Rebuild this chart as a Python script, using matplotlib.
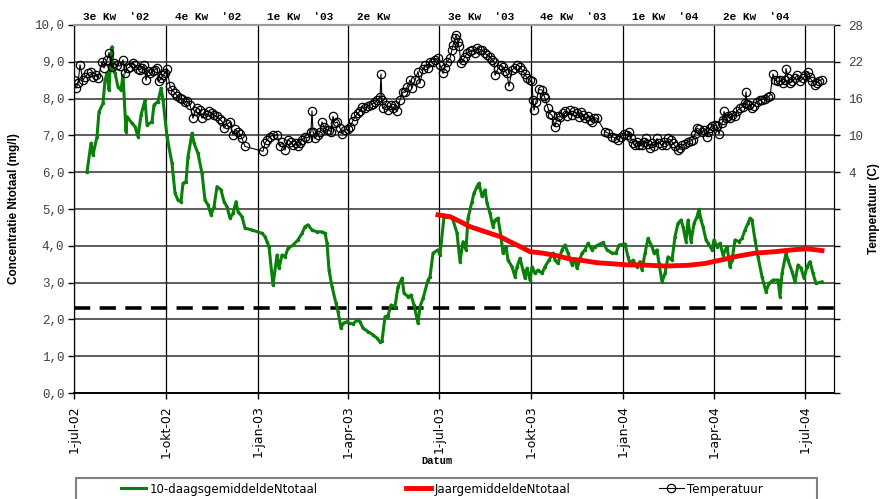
import pandas as pd
import matplotlib.pyplot as plt
from matplotlib.patches import Rectangle
from matplotlib import transforms

# Startdatum, alle dagen zijn geteld vanaf 1-jul-02
start = pd.Timestamp('2002-07-01')

# 10-daags gemiddelde Ntotaal (mg/l)
n10_dagen = [13, 17, 19, 23, 25, 29, 31, 33, 35, 36, 38, 39, 41, 44, 47, 49, 52, 53, 58, 61,
             64, 67, 71, 73, 78, 80, 84, 87, 89, 93, 98, 101, 104, 107, 109, 112, 114, 118, 120, 124,
             128, 131, 134, 137, 140, 143, 147, 150, 153, 156, 159, 162, 164, 168, 171, 178, 188, 191, 193, 195,
             199, 203, 205, 208, 211, 214, 219, 224, 228, 231, 234, 238, 243, 248, 251, 253, 255, 258, 262, 264,
             267, 269, 273, 276, 279, 283, 286, 289, 294, 299, 303, 306, 308, 311, 314, 317, 321, 324, 328, 330,
             334, 337, 340, 344, 346, 349, 354, 356, 359, 364, 366, 370, 373, 376, 379, 383, 386, 389, 392, 394,
             398, 400, 403, 405, 408, 411, 413, 416, 419, 421, 424, 427, 429, 432, 434, 438, 441, 443, 446, 449,
             451, 453, 456, 458, 461, 464, 468, 471, 475, 479, 481, 484, 488, 491, 494, 498, 501, 503, 508, 511,
             514, 518, 521, 524, 529, 533, 538, 542, 545, 551, 554, 556, 559, 563, 566, 568, 571, 574, 578, 580,
             583, 585, 588, 591, 594, 598, 601, 604, 607, 609, 612, 614, 617, 620, 623, 625, 627, 629, 632, 634,
             638, 640, 643, 646, 649, 653, 656, 658, 661, 665, 668, 671, 674, 676, 678, 681, 684, 688, 692, 695,
             699, 704, 706, 708, 712, 714, 718, 721, 724, 727, 730, 733, 736, 739, 742, 748]
n10_waarde = [6.00, 6.79, 6.47, 6.97, 7.64, 7.87, 8.50, 8.69, 8.23, 8.78, 9.41, 8.78, 8.69, 8.32, 8.23, 8.64, 7.10, 7.51, 7.33, 7.24,
              6.97, 7.55, 7.96, 7.28, 7.37, 7.83, 7.92, 8.28, 7.96, 6.97, 6.24, 5.43, 5.24, 5.20, 5.70, 5.74, 6.42, 7.06, 6.79, 6.51,
              5.97, 5.24, 5.11, 4.84, 5.06, 5.61, 5.52, 5.20, 5.06, 4.75, 4.88, 5.20, 4.93, 4.79, 4.48, 4.43, 4.34, 4.25, 4.11, 3.98,
              2.93, 3.75, 3.39, 3.75, 3.70, 3.93, 4.02, 4.16, 4.34, 4.52, 4.57, 4.43, 4.38, 4.38, 4.34, 4.07, 3.34, 2.89, 2.44, 2.21,
              1.76, 1.89, 1.94, 1.89, 1.88, 1.98, 1.94, 1.76, 1.67, 1.58, 1.49, 1.39, 1.42, 2.07, 2.10, 2.39, 2.35, 2.89, 3.12, 2.71,
              2.62, 2.66, 2.39, 1.89, 2.35, 2.57, 3.07, 3.16, 3.80, 3.89, 3.75, 4.79, 4.79, 4.81, 4.70, 4.34, 3.57, 4.11, 3.89, 4.75,
              5.20, 5.43, 5.61, 5.70, 5.34, 5.52, 5.16, 4.88, 4.52, 4.70, 4.75, 4.25, 3.80, 3.98, 3.61, 3.43, 3.16, 3.43, 3.66, 3.34,
              3.12, 3.39, 3.07, 3.43, 3.25, 3.34, 3.25, 3.43, 3.61, 3.80, 3.61, 3.52, 3.89, 4.02, 3.80, 3.48, 3.61, 3.39, 3.80, 3.89,
              4.07, 3.89, 3.98, 4.02, 4.09, 3.89, 3.80, 3.80, 4.02, 4.05, 3.70, 3.52, 3.61, 3.43, 3.57, 3.34, 3.80, 4.20, 3.98, 3.80,
              3.89, 3.52, 3.02, 3.25, 3.70, 3.61, 4.25, 4.61, 4.70, 4.52, 4.11, 4.70, 4.11, 4.61, 4.79, 4.99, 4.70, 4.52, 4.16, 4.07,
              3.89, 4.16, 3.98, 4.07, 3.75, 3.98, 3.43, 3.61, 4.16, 4.11, 4.20, 4.43, 4.61, 4.75, 4.70, 4.16, 3.70, 3.16, 2.75, 2.98,
              3.07, 3.07, 2.62, 3.25, 3.80, 3.61, 3.30, 3.02, 3.48, 3.39, 3.12, 3.43, 3.57, 3.25, 2.98, 3.02]

# Jaargemiddelde Ntotaal (mg/l)
jaar_dagen = [364, 376, 386, 396, 406, 416, 426, 436, 446, 456, 469, 483, 496, 509, 523, 539, 554, 568, 591, 614,
              631, 648, 664, 681, 701, 718, 733, 748]
jaar_waarde = [4.84, 4.79, 4.66, 4.52, 4.43, 4.34, 4.25, 4.11, 3.98, 3.84, 3.80, 3.73, 3.64, 3.60, 3.54, 3.51, 3.48, 3.48, 3.45, 3.47,
               3.52, 3.62, 3.72, 3.80, 3.84, 3.89, 3.92, 3.87]

# Temperatuur (C)
temp_dagen = [0, 2, 4, 6, 9, 11, 14, 17, 19, 22, 24, 28, 30, 33, 35, 38, 40, 43, 46, 49,
              51, 54, 56, 59, 61, 64, 66, 68, 70, 72, 74, 76, 79, 81, 83, 85, 87, 89, 91, 93,
              96, 98, 101, 103, 106, 108, 111, 113, 116, 119, 121, 123, 126, 128, 130, 133, 135, 138, 140, 143,
              146, 148, 150, 153, 156, 159, 161, 164, 166, 168, 171, 189, 191, 193, 196, 199, 203, 206, 208, 211,
              214, 217, 219, 222, 224, 226, 228, 231, 234, 237, 238, 239, 241, 244, 246, 248, 250, 253, 255, 257,
              259, 261, 263, 266, 268, 271, 274, 276, 279, 281, 284, 286, 288, 291, 294, 297, 299, 301, 303, 306,
              307, 308, 309, 312, 314, 317, 319, 321, 323, 326, 329, 331, 333, 336, 338, 341, 344, 346, 349, 351,
              354, 356, 359, 361, 364, 366, 369, 371, 373, 376, 378, 379, 381, 382, 384, 385, 387, 389, 391, 393,
              396, 398, 401, 403, 406, 408, 411, 413, 416, 418, 420, 421, 424, 427, 429, 431, 433, 435, 438, 441,
              443, 446, 448, 451, 453, 456, 458, 459, 460, 462, 465, 468, 470, 471, 474, 476, 478, 481, 482, 484,
              486, 489, 491, 493, 496, 498, 500, 503, 505, 507, 509, 511, 514, 516, 518, 520, 523, 531, 534, 538,
              541, 544, 547, 550, 553, 555, 557, 559, 561, 563, 565, 568, 570, 572, 574, 576, 578, 580, 583, 585,
              588, 590, 592, 594, 597, 599, 601, 604, 606, 608, 611, 614, 617, 619, 621, 623, 625, 628, 630, 633,
              634, 636, 638, 641, 643, 645, 648, 649, 650, 652, 654, 656, 658, 661, 663, 666, 669, 671, 672, 673,
              675, 678, 680, 683, 686, 688, 691, 694, 696, 699, 701, 704, 706, 709, 711, 712, 714, 716, 718, 721,
              723, 726, 729, 731, 734, 736, 738, 741, 743, 745, 748]
temp_waarde = [19.0, 17.7, 18.5, 21.5, 19.0, 19.5, 20.1, 20.3, 19.6, 19.8, 19.3, 22.0, 21.0, 22.3, 23.5, 21.2, 21.8, 21.5, 21.3, 22.3,
               20.1, 21.0, 21.2, 21.8, 21.5, 20.9, 20.7, 21.0, 21.5, 19.0, 20.5, 20.1, 20.5, 20.7, 21.0, 18.8, 19.3, 19.8, 20.2, 20.9,
               18.0, 17.4, 16.9, 16.5, 16.1, 15.9, 15.5, 15.6, 15.0, 12.8, 14.0, 14.4, 14.2, 12.8, 13.6, 13.3, 13.9, 13.6, 13.3, 13.1,
               12.6, 12.3, 11.2, 11.8, 12.2, 10.1, 11.0, 10.6, 10.2, 9.5, 8.2, 7.4, 8.7, 9.3, 9.8, 10.0, 10.1, 8.2, 8.9, 7.6,
               9.3, 8.9, 8.4, 8.8, 8.2, 8.8, 9.3, 9.8, 9.6, 10.6, 14.0, 10.6, 9.5, 10.1, 10.5, 12.2, 11.3, 10.9, 10.8, 10.6,
               13.1, 12.0, 12.2, 11.2, 10.3, 10.9, 11.0, 11.4, 12.4, 13.1, 13.6, 14.0, 14.7, 14.5, 14.8, 15.0, 15.2, 15.4, 15.8, 16.2,
               20.0, 15.8, 14.4, 15.0, 14.1, 14.9, 14.4, 15.0, 13.9, 15.8, 17.1, 17.0, 17.9, 19.0, 17.7, 19.0, 20.4, 18.5, 20.8, 21.5,
               21.0, 22.0, 22.0, 22.3, 22.6, 21.5, 20.1, 21.0, 22.0, 22.6, 24.0, 24.7, 25.8, 26.4, 25.3, 24.5, 21.8, 22.3, 22.8, 23.4,
               23.7, 23.9, 23.5, 24.2, 24.0, 23.9, 23.4, 23.1, 22.8, 22.3, 22.0, 19.8, 20.9, 21.5, 21.2, 20.5, 20.1, 18.0, 20.7, 21.0,
               21.5, 21.2, 20.7, 20.0, 19.3, 19.0, 18.8, 15.8, 14.1, 15.5, 17.5, 17.4, 16.5, 16.1, 14.5, 13.5, 13.3, 11.4, 12.2, 13.1,
               13.0, 13.6, 14.0, 13.2, 14.1, 13.3, 13.9, 13.6, 13.0, 13.8, 13.3, 12.9, 13.1, 12.5, 12.2, 12.9, 12.8, 10.6, 10.4, 9.8,
               9.6, 9.3, 9.8, 10.2, 10.1, 10.6, 9.5, 8.8, 8.4, 9.0, 8.5, 8.4, 8.9, 9.5, 8.6, 7.9, 8.8, 8.3, 9.5, 8.8,
               8.4, 8.9, 8.5, 9.5, 9.2, 8.7, 8.3, 7.6, 8.0, 8.4, 8.6, 9.0, 9.1, 9.3, 10.2, 11.2, 11.0, 10.6, 10.9, 9.8,
               10.5, 11.2, 11.5, 11.7, 11.5, 10.2, 12.0, 12.5, 13.9, 12.8, 13.1, 12.8, 13.4, 13.1, 14.0, 14.4, 14.7, 15.3, 17.1, 15.2,
               14.9, 14.4, 14.8, 15.5, 15.7, 15.8, 16.0, 16.3, 16.5, 20.0, 19.0, 18.8, 19.0, 18.5, 19.0, 20.9, 19.4, 18.5, 18.8, 19.3,
               19.8, 18.8, 19.3, 19.8, 20.4, 19.5, 18.8, 18.2, 18.6, 18.9, 19.1]

norm_ntotaal = 2.3

xtick_datums = ['2002-07-01', '2002-10-01', '2003-01-01', '2003-04-01', '2003-07-01',
                '2003-10-01', '2004-01-01', '2004-04-01', '2004-07-01']
xtick_labels = ['1-jul-02', '1-okt-02', '1-jan-03', '1-apr-03', '1-jul-03',
                '1-okt-03', '1-jan-04', '1-apr-04', '1-jul-04']
kwartaal_labels = ["3e Kw  '02", "4e Kw  '02", "1e Kw  '03", "2e Kw",
                   "3e Kw  '03", "4e Kw  '03", "1e Kw  '04", "2e Kw  '04"]
ytick_links = ['0,0', '1,0', '2,0', '3,0', '4,0', '5,0', '6,0', '7,0', '8,0', '9,0', '10,0']
ytick_rechts = [28, 22, 16, 10, 4, -2, -8, -14, -20, -26, -32]


def naar_datum(dagen):
    return start + pd.to_timedelta(dagen, unit='D')


mono = ['Liberation Mono', 'DejaVu Sans Mono']
smal = ['DejaVu Sans']

fig = plt.figure(figsize=(8.85, 4.99), dpi=100)
ax = fig.add_axes([74 / 885, 1 - 393 / 499, 760 / 885, 368 / 499])
ax2 = ax.twinx()

l1, = ax.plot(naar_datum(n10_dagen), n10_waarde, color='#0a800a', lw=2.2,
              marker='.', markersize=3, zorder=3)
l2, = ax.plot(naar_datum(jaar_dagen), jaar_waarde, color='#ff0000', lw=3.5, zorder=4)
ax.axhline(norm_ntotaal, color='black', lw=2.6, dashes=(4.5, 2.6), zorder=2)
l3, = ax2.plot(naar_datum(temp_dagen), temp_waarde, color='black', lw=0.8,
               marker='o', markersize=6, mfc='none', mec='black', mew=0.9)

ax.set_xlim(start, naar_datum(760))
ax.set_ylim(0, 10)
ax2.set_ylim(-32, 28)

ax.set_yticks(range(11))
ax.set_yticklabels(ytick_links, family=mono, fontsize=9, color='#404040')
ax2.set_yticks(ytick_rechts)
ax2.set_yticklabels([str(t) if t >= 4 else '' for t in ytick_rechts],
                    family=mono, fontsize=9, color='#404040')
ax.set_xticks(pd.to_datetime(xtick_datums))
ax.set_xticklabels(xtick_labels, rotation=90, family=smal, fontsize=9)

ax.tick_params(axis='y', length=4, width=1, pad=3)
ax.tick_params(axis='x', length=4, width=1, pad=5)
ax2.tick_params(axis='y', length=4, width=1, pad=6)

ax.grid(axis='y', color='#303030', lw=1.1)
ax.grid(axis='x', color='black', lw=0.9)
ax.set_axisbelow(True)
for a in (ax, ax2):
    a.spines['top'].set_color('#999999')
    a.spines['top'].set_linewidth(1.5)
    a.spines['bottom'].set_linewidth(1.2)

ax.set_ylabel('Concentratie Ntotaal (mg/l)', family='Liberation Sans', fontweight='bold',
              fontsize=8.5, labelpad=10)
ax2.set_ylabel('Temperatuur (C)', family='Liberation Sans', fontweight='bold',
               fontsize=8.5, labelpad=4)

# kwartaallabels boven de grafiek
trans = transforms.blended_transform_factory(ax.transData, ax.transAxes)
for d, lab in zip(xtick_datums[:8], kwartaal_labels):
    ax.text(pd.Timestamp(d) + pd.Timedelta(days=9), 1.008, lab, transform=trans,
            ha='left', va='bottom', family=mono, fontweight='bold', fontsize=8)

fig.text(437 / 885, 1 - 461 / 499, 'Datum', ha='center', va='center',
         family=mono, fontweight='bold', fontsize=7.5)

# legenda met kader onderaan
fig.add_artist(Rectangle((76 / 885, -0.02), 741 / 885, 21 / 499 + 0.02,
                         transform=fig.transFigure, fill=False, edgecolor='#808080', lw=1.5))
fig.legend([l1, l2, l3], ['10-daagsgemiddeldeNtotaal', 'JaargemiddeldeNtotaal', 'Temperatuur'],
           loc='center', bbox_to_anchor=(442 / 885, 1 - 489 / 499), ncol=3, frameon=False,
           prop={'family': smal, 'size': 8.5}, handlelength=2.1, handletextpad=0.3,
           columnspacing=7.5, borderpad=0)

fig.savefig('out.png', dpi=100)
